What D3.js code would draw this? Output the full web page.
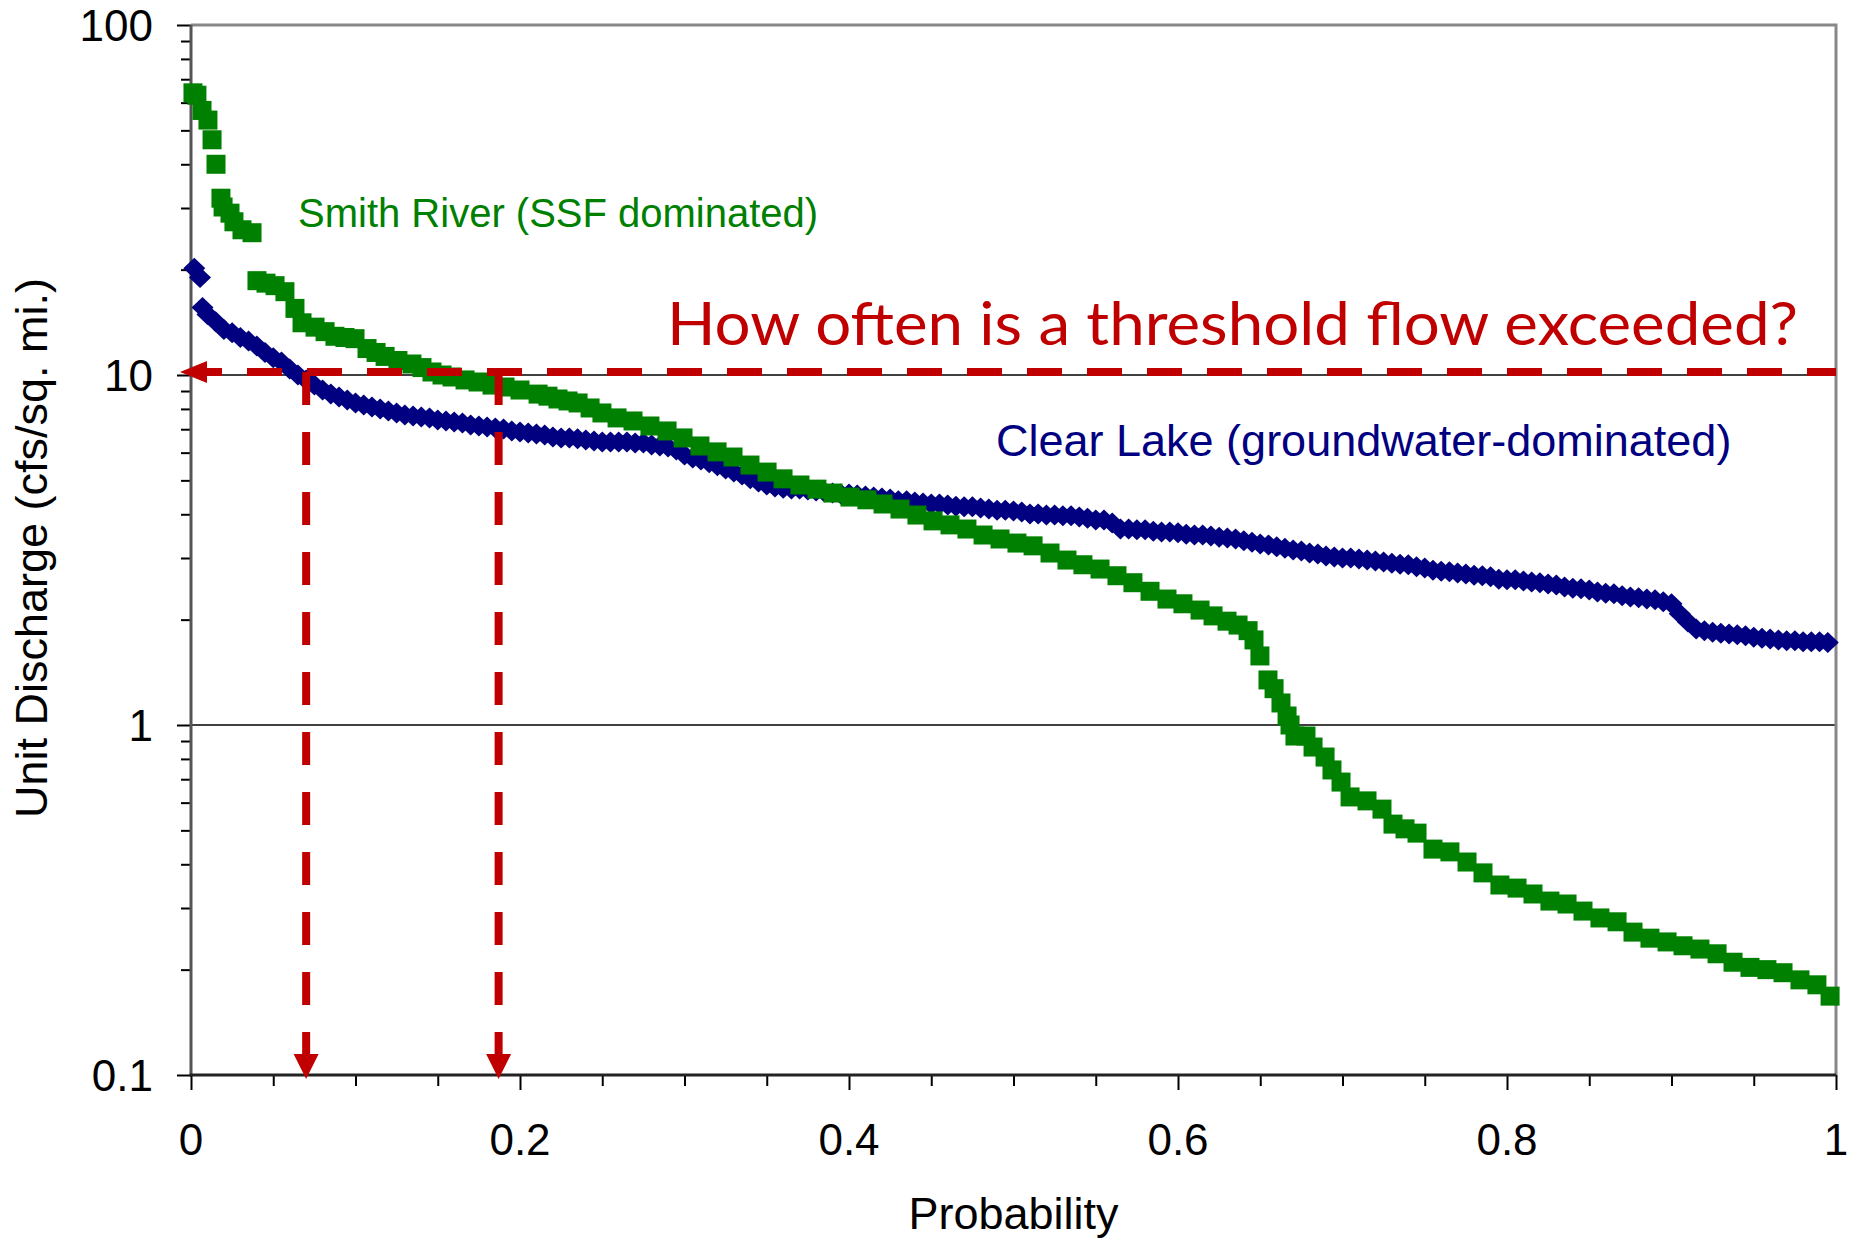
<!DOCTYPE html>
<html><head><meta charset="utf-8">
<script src="https://cdn.jsdelivr.net/npm/d3@7"></script>
<style>body{margin:0;background:#fff}svg{display:block}</style>
</head><body>
<svg id="c" width="1858" height="1242"></svg>
<script>
// ---- data: [exceedance probability, unit discharge cfs/sq.mi.] ----
const smithRiverPoints = [
[0.0012,64],[0.0036,63],[0.0067,57],[0.0103,53.5],[0.0128,47],[0.0152,40],[0.0182,32],[0.0195,30.2],[0.0237,29],[0.0261,27.4],
[0.031,26],[0.0371,25.5],[0.0401,18.6],[0.0456,18.3],[0.0511,18.0],[0.0571,17.3],[0.0632,15.5],[0.0675,14.1],[0.0754,13.7],[0.0815,13.3],
[0.0875,12.9],[0.0936,12.8],[0.0997,12.7],[0.107,11.9],[0.1125,11.6],[0.118,11.3],[0.1258,11.0],[0.1343,10.75],[0.1404,10.5],[0.1465,10.2],
[0.1526,10.0],[0.1587,9.87],[0.1666,9.68],[0.1745,9.55],[0.183,9.36],[0.1909,9.24],[0.2,9.06],[0.211,8.82],[0.217,8.7],[0.2231,8.54],
[0.2292,8.43],[0.2353,8.32],[0.2426,8.05],[0.2498,7.79],[0.259,7.54],[0.2687,7.39],[0.279,7.15],[0.2894,6.92],[0.2991,6.61],[0.3094,6.27],
[0.3198,6.03],[0.3295,5.83],[0.3398,5.53],[0.3502,5.28],[0.3599,5.05],[0.3702,4.85],[0.3805,4.72],[0.3903,4.60],[0.4006,4.48],[0.4109,4.40],
[0.4207,4.28],[0.431,4.14],[0.4413,3.98],[0.4511,3.83],[0.4614,3.73],[0.4717,3.63],[0.4815,3.49],[0.4918,3.40],[0.5021,3.31],[0.5119,3.25],
[0.5222,3.10],[0.5325,2.96],[0.5422,2.87],[0.5526,2.79],[0.5629,2.67],[0.5726,2.55],[0.583,2.41],[0.5933,2.29],[0.603,2.22],[0.6134,2.13],
[0.6213,2.05],[0.6298,1.98],[0.6365,1.93],[0.6426,1.86],[0.6462,1.75],[0.6498,1.575],[0.6547,1.345],[0.6584,1.27],[0.6626,1.156],[0.6663,1.061],
[0.6681,1.0],[0.6711,0.93],[0.6778,0.93],[0.6821,0.865],[0.6894,0.81],[0.6936,0.744],[0.6991,0.687],[0.7046,0.623],[0.7149,0.607],[0.724,0.575],
[0.7307,0.521],[0.738,0.505],[0.7453,0.491],[0.755,0.442],[0.7653,0.434],[0.7757,0.406],[0.7854,0.378],[0.7957,0.349],[0.8061,0.342],[0.8158,0.329],
[0.8261,0.314],[0.8365,0.308],[0.8462,0.294],[0.8565,0.281],[0.8669,0.274],[0.8766,0.256],[0.8869,0.246],[0.8973,0.240],[0.907,0.234],[0.9173,0.229],
[0.9277,0.222],[0.9374,0.210],[0.9477,0.203],[0.958,0.200],[0.9678,0.196],[0.9781,0.187],[0.9884,0.181],[0.9964,0.168]
];
const clearLakePoints = [
[0.002,20.2],[0.0055,19.0],[0.007,15.6],[0.010,14.9],[0.015,14.2],[0.020,13.5],[0.025,13.2],[0.030,12.8],[0.035,12.5],[0.040,12.1],
[0.045,11.6],[0.050,11.2],[0.055,10.9],[0.060,10.4],[0.065,10.0],[0.070,9.68],[0.075,9.36],[0.080,9.06],[0.085,8.83],[0.090,8.65],
[0.095,8.48],[0.100,8.32],[0.105,8.21],[0.110,8.10],[0.115,7.99],[0.120,7.89],[0.125,7.79],[0.130,7.69],[0.135,7.64],[0.140,7.59],
[0.145,7.54],[0.150,7.44],[0.155,7.39],[0.160,7.34],[0.165,7.29],[0.170,7.20],[0.175,7.15],[0.180,7.10],[0.185,7.06],[0.190,7.01],
[0.195,6.92],[0.200,6.87],[0.205,6.83],[0.210,6.78],[0.215,6.74],[0.220,6.65],[0.225,6.61],[0.230,6.61],[0.235,6.57],[0.240,6.52],
[0.245,6.48],[0.250,6.44],[0.255,6.44],[0.260,6.44],[0.265,6.44],[0.270,6.39],[0.275,6.39],[0.280,6.31],[0.285,6.27],[0.290,6.23],
[0.295,6.11],[0.300,5.91],[0.305,5.79],[0.310,5.72],[0.315,5.61],[0.320,5.50],[0.325,5.39],[0.330,5.28],[0.335,5.18],[0.340,5.05],
[0.345,4.95],[0.350,4.85],[0.355,4.79],[0.360,4.75],[0.365,4.72],[0.370,4.72],[0.375,4.69],[0.380,4.66],[0.385,4.63],[0.390,4.60],
[0.395,4.57],[0.400,4.57],[0.405,4.54],[0.410,4.51],[0.415,4.48],[0.420,4.45],[0.425,4.42],[0.430,4.37],[0.435,4.37],[0.440,4.34],
[0.445,4.31],[0.450,4.28],[0.455,4.28],[0.460,4.25],[0.465,4.22],[0.470,4.20],[0.475,4.20],[0.480,4.17],[0.485,4.14],[0.490,4.11],
[0.495,4.11],[0.500,4.09],[0.505,4.06],[0.510,4.01],[0.515,4.01],[0.520,3.98],[0.525,3.98],[0.530,3.96],[0.535,3.96],[0.540,3.93],
[0.545,3.90],[0.550,3.85],[0.555,3.85],[0.560,3.78],[0.565,3.63],[0.570,3.63],[0.575,3.61],[0.580,3.61],[0.585,3.58],[0.590,3.56],
[0.595,3.56],[0.600,3.54],[0.605,3.51],[0.610,3.49],[0.615,3.49],[0.620,3.47],[0.625,3.44],[0.630,3.42],[0.635,3.40],[0.640,3.36],
[0.645,3.33],[0.650,3.29],[0.655,3.27],[0.660,3.23],[0.665,3.20],[0.670,3.16],[0.675,3.14],[0.680,3.10],[0.685,3.08],[0.690,3.04],
[0.695,3.02],[0.700,3.00],[0.705,3.00],[0.710,2.98],[0.715,2.96],[0.720,2.94],[0.725,2.92],[0.730,2.90],[0.735,2.88],[0.740,2.87],
[0.745,2.83],[0.750,2.81],[0.755,2.77],[0.760,2.75],[0.765,2.74],[0.770,2.72],[0.775,2.70],[0.780,2.68],[0.785,2.67],[0.790,2.65],
[0.795,2.61],[0.800,2.60],[0.805,2.60],[0.810,2.58],[0.815,2.56],[0.820,2.55],[0.825,2.53],[0.830,2.51],[0.835,2.48],[0.840,2.46],
[0.845,2.45],[0.850,2.43],[0.855,2.40],[0.860,2.38],[0.865,2.37],[0.870,2.34],[0.875,2.32],[0.880,2.31],[0.885,2.29],[0.890,2.28],
[0.895,2.25],[0.900,2.22],[0.905,2.08],[0.910,1.97],[0.915,1.88],[0.920,1.86],[0.925,1.84],[0.930,1.83],[0.935,1.82],[0.940,1.81],
[0.945,1.80],[0.950,1.78],[0.955,1.77],[0.960,1.76],[0.965,1.75],[0.970,1.74],[0.975,1.74],[0.980,1.73],[0.985,1.73],[0.990,1.73],
[0.995,1.72]
];
const yTickValues = [0.1, 1, 10, 100];
const yTickLabels = ["0.1", "1", "10", "100"];
const xTickValues = [0, 0.2, 0.4, 0.6, 0.8, 1];
const xTickLabels = ["0", "0.2", "0.4", "0.6", "0.8", "1"];
const gridValues = [1, 10];
const thresholdQ = 10;
const thresholdProbs = [0.07, 0.187];
const smithLabel = "Smith River (SSF dominated)";
const clearLabel = "Clear Lake (groundwater-dominated)";
const question = "How often is a threshold flow exceeded?";

// ---- layout ----
const W = 1858, H = 1242;
const m = {left: 191, right: 1836, top: 25, bottom: 1075};
const x = d3.scaleLinear().domain([0, 1]).range([m.left, m.right]);
const y = d3.scaleLog().domain([0.1, 100]).range([m.bottom, m.top]);
const FONT = "'Liberation Sans', Arial, sans-serif";
const RED = "#C00000", GREEN = "#008000", NAVY = "#000080";

const svg = d3.select("#c");
svg.append("rect").attr("width", W).attr("height", H).attr("fill", "#fff");

// gridlines
svg.append("g").selectAll("line").data(gridValues).join("line")
  .attr("x1", x(0)).attr("x2", x(1))
  .attr("y1", d => y(d)).attr("y2", d => y(d))
  .attr("stroke", "#000").attr("stroke-width", 1.6);

// top/right frame
svg.append("path")
  .attr("d", `M${x(0)},${y(100)}H${x(1)}V${y(0.1)}`)
  .attr("fill", "none").attr("stroke", "#888").attr("stroke-width", 3);

// ticks
const yMinor = y.ticks().filter(v => !yTickValues.includes(v));
const gy = svg.append("g").attr("transform", `translate(${x(0)},0)`);
gy.call(d3.axisLeft(y).tickValues(yMinor).tickSize(10).tickFormat(""));
gy.call(g => g.select(".domain").remove());
const gy2 = svg.append("g").attr("transform", `translate(${x(0)},0)`);
gy2.call(d3.axisLeft(y).tickValues(yTickValues).tickSize(14).tickFormat(""));
gy2.call(g => g.select(".domain").remove());

const xAll = x.ticks(20);
const xMinor = xAll.filter(v => !xTickValues.some(t => Math.abs(t - v) < 1e-9));
const gx = svg.append("g").attr("transform", `translate(0,${y(0.1)})`);
gx.call(d3.axisBottom(x).tickValues(xMinor).tickSize(11).tickFormat(""));
gx.call(g => g.select(".domain").remove());
const gx2 = svg.append("g").attr("transform", `translate(0,${y(0.1)})`);
gx2.call(d3.axisBottom(x).tickValues(xTickValues).tickSize(15).tickFormat(""));
gx2.call(g => g.select(".domain").remove());
svg.selectAll(".tick line").attr("stroke", "#000").attr("stroke-width", 2);

// axis lines
svg.append("line").attr("x1", x(0)).attr("x2", x(0)).attr("y1", y(100)).attr("y2", y(0.1))
  .attr("stroke", "#555").attr("stroke-width", 3);
svg.append("line").attr("x1", x(0) - 1.5).attr("x2", x(1)).attr("y1", y(0.1)).attr("y2", y(0.1))
  .attr("stroke", "#222").attr("stroke-width", 3);

// tick labels
svg.append("g").selectAll("text").data(yTickValues).join("text")
  .attr("x", x(0) - 38).attr("y", d => y(d) + 15.5)
  .attr("text-anchor", "end").attr("font-family", FONT).attr("font-size", 44)
  .text((d, i) => yTickLabels[i]);
svg.append("g").selectAll("text").data(xTickValues).join("text")
  .attr("x", d => x(d)).attr("y", y(0.1) + 80)
  .attr("text-anchor", "middle").attr("font-family", FONT).attr("font-size", 44)
  .text((d, i) => xTickLabels[i]);

// axis titles
svg.append("text").attr("x", (x(0) + x(1)) / 2).attr("y", 1229)
  .attr("text-anchor", "middle").attr("font-family", FONT).attr("font-size", 45)
  .text("Probability");
svg.append("text").attr("transform", `translate(47,${(y(0.1) + y(100)) / 2 - 2}) rotate(-90)`)
  .attr("text-anchor", "middle").attr("font-family", FONT).attr("font-size", 45)
  .text("Unit Discharge (cfs/sq. mi.)");

// series: Clear Lake (diamonds)
svg.append("g").selectAll("path").data(clearLakePoints).join("path")
  .attr("transform", d => `translate(${x(d[0])},${y(d[1])})`)
  .attr("d", "M0,-10.5L11,0L0,10.5L-11,0Z")
  .attr("fill", NAVY);

// series: Smith River (squares)
svg.append("g").selectAll("rect").data(smithRiverPoints).join("rect")
  .attr("x", d => x(d[0]) - 9.5).attr("y", d => y(d[1]) - 9.5)
  .attr("width", 19).attr("height", 19)
  .attr("fill", GREEN);

// series labels
svg.append("text").attr("x", 298).attr("y", 227)
  .attr("font-family", FONT).attr("font-size", 40).attr("fill", GREEN).text(smithLabel);
svg.append("text").attr("x", 996).attr("y", 456)
  .attr("font-family", FONT).attr("font-size", 45).attr("fill", NAVY).text(clearLabel);

// threshold annotation
const yT = y(thresholdQ) - 3;
const ann = svg.append("g");
ann.append("line").attr("x1", x(0) + 16).attr("x2", x(1)).attr("y1", yT).attr("y2", yT)
  .attr("stroke", RED).attr("stroke-width", 8)
  .attr("stroke-dasharray", "35,25").attr("stroke-dashoffset", 20);
ann.append("path")
  .attr("d", `M${x(0) - 11},${yT}L${x(0) + 16},${yT - 11}L${x(0) + 16},${yT + 11}Z`)
  .attr("fill", RED);
ann.selectAll("line.v").data(thresholdProbs).join("line").attr("class", "v")
  .attr("x1", d => x(d)).attr("x2", d => x(d))
  .attr("y1", yT).attr("y2", y(0.1) - 21)
  .attr("stroke", RED).attr("stroke-width", 8).attr("stroke-dasharray", "33,27");
ann.selectAll("path.ah").data(thresholdProbs).join("path").attr("class", "ah")
  .attr("d", d => `M${x(d)},${y(0.1) + 4}L${x(d) - 12.5},${y(0.1) - 21}L${x(d) + 12.5},${y(0.1) - 21}Z`)
  .attr("fill", RED);

svg.append("text").attr("x", 667).attr("y", 345)
  .attr("font-family", "Lato, 'Open Sans', sans-serif").attr("font-size", 60)
  .attr("fill", RED).attr("textLength", 1131).attr("lengthAdjust", "spacingAndGlyphs")
  .text(question);
</script>
</body></html>
